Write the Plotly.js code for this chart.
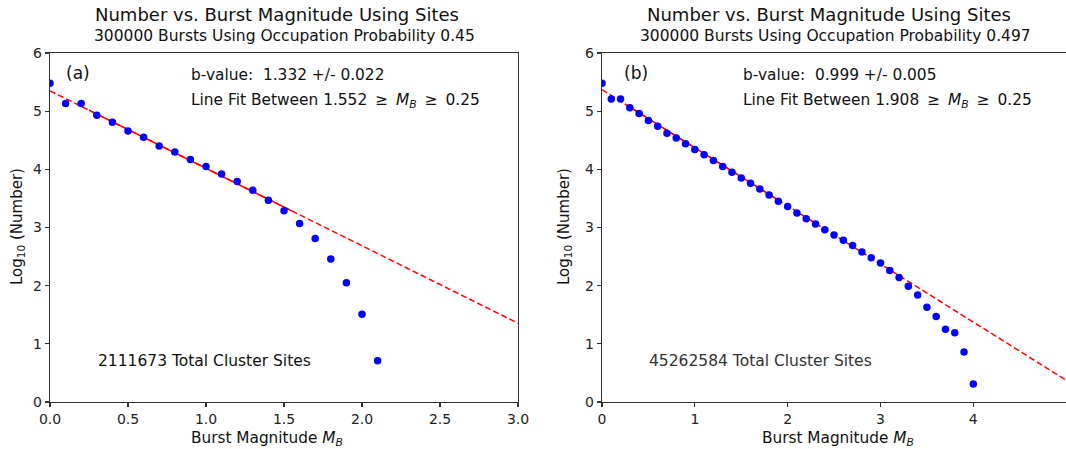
<!DOCTYPE html>
<html>
<head>
<meta charset="utf-8">
<script src="https://cdn.plot.ly/plotly-3.0.1.min.js"></script>
<style>
html,body{margin:0;padding:0;overflow:hidden;background:#fff;}
#chart{width:1070px;height:449px;}
</style>
</head>
<body>
<div id="chart"></div>
<script>
// ---- Data ----
const magA = [0.0,0.1,0.2,0.3,0.4,0.5,0.6,0.7,0.8,0.9,1.0,1.1,1.2,1.3,1.4,1.5,1.6,1.7,1.8,1.9,2.0,2.1];
const logNA = [5.48,5.13,5.13,4.93,4.81,4.66,4.55,4.40,4.30,4.17,4.05,3.92,3.79,3.64,3.47,3.29,3.07,2.81,2.46,2.05,1.51,0.71];
const magB = [0.0,0.1,0.2,0.3,0.4,0.5,0.6,0.7,0.8,0.9,1.0,1.1,1.2,1.3,1.4,1.5,1.6,1.7,1.8,1.9,2.0,
              2.1,2.2,2.3,2.4,2.5,2.6,2.7,2.8,2.9,3.0,3.1,3.2,3.3,3.4,3.5,3.6,3.7,3.8,3.9,4.0];
const logNB = [5.48,5.21,5.21,5.06,4.96,4.84,4.74,4.62,4.54,4.44,4.34,4.25,4.15,4.05,3.95,3.85,3.76,3.66,3.56,3.45,3.36,
               3.25,3.15,3.06,2.96,2.87,2.78,2.69,2.58,2.48,2.39,2.26,2.14,1.99,1.84,1.63,1.47,1.25,1.19,0.86,0.31];
// fit lines: intercept, b-value, fit range, drawn extent
const fitA = {a:5.35, b:1.332, lo:0.25, hi:1.552, xmax:3.0};
const fitB = {a:5.37, b:0.999, lo:0.25, hi:1.908, xmax:5.02};
const xTicksA = [0,0.5,1.0,1.5,2.0,2.5,3.0];
const xTicksB = [0,1,2,3,4];
const yTicks = [0,1,2,3,4,5,6];
const titleMain = "Number vs. Burst Magnitude Using Sites";
const subA = "300000 Bursts Using Occupation Probability 0.45";
const subB = "300000 Bursts Using Occupation Probability 0.497";
const bTextA = "b-value:  1.332 +/- 0.022";
const bTextB = "b-value:  0.999 +/- 0.005";
const fitTextA = "Line Fit Between 1.552 \u2009\u2265\u2009 <i>M<sub>B</sub></i> \u2009\u2265\u2009 0.25";
const fitTextB = "Line Fit Between 1.908 \u2009\u2265\u2009 <i>M<sub>B</sub></i> \u2009\u2265\u2009 0.25";
const sitesA = "2111673 Total Cluster Sites";
const sitesB = "45262584 Total Cluster Sites";

// ---- Layout ----
const W = 1070, H = 449;
const px = x => x / W, py = y => 1 - y / H;
const FONT = "DejaVu Sans, sans-serif";
const AX = '#333';

function line(fit, x0, x1, xa, ya, dash){
  return {x:[x0,x1], y:[fit.a - fit.b*x0, fit.a - fit.b*x1], xaxis:xa, yaxis:ya,
          mode:'lines', line:{color:'#ff0000', width:1.5, dash:dash}, hoverinfo:'skip', showlegend:false};
}
const traces = [
  line(fitA, 0, fitA.xmax, 'x', 'y', '6px,3px'),
  line(fitA, fitA.lo, fitA.hi, 'x', 'y', 'solid'),
  {x:magA, y:logNA, xaxis:'x', yaxis:'y', mode:'markers', marker:{color:'#0000ff', size:7.5}, showlegend:false},
  line(fitB, 0, fitB.xmax, 'x2', 'y2', '6px,3px'),
  line(fitB, fitB.lo, fitB.hi, 'x2', 'y2', 'solid'),
  {x:magB, y:logNB, xaxis:'x2', yaxis:'y2', mode:'markers', marker:{color:'#0000ff', size:7.5}, showlegend:false}
];

function xax(domain, range, tv, fmt){
  return {domain:domain, range:range, tickvals:tv, tickformat:fmt, ticks:'outside', ticklen:4, tickwidth:1.2, tickcolor:AX,
          showline:true, linecolor:AX, linewidth:1.2, mirror:true, showgrid:false, zeroline:false,
          tickfont:{family:FONT, size:14, color:'#222'}, automargin:false};
}
function yax(anchor){
  return {domain:[py(402), py(53)], range:[0,6], tickvals:yTicks, anchor:anchor, ticks:'outside', ticklen:4, tickwidth:1.2, tickcolor:AX,
          showline:true, linecolor:AX, linewidth:1.2, mirror:true, showgrid:false, zeroline:false,
          tickfont:{family:FONT, size:14, color:'#222'}, automargin:false};
}
function ann(text, x, y, size, xanchor, extra){
  return Object.assign({text:text, xref:'paper', yref:'paper', x:px(x), y:py(y), xanchor:xanchor, yanchor:'middle',
          showarrow:false, font:{family:FONT, size:size, color:'#111'}}, extra||{});
}
const layout = {
  width:W, height:H, margin:{l:0,r:0,t:0,b:0}, paper_bgcolor:'#fff', plot_bgcolor:'#fff', showlegend:false,
  xaxis: xax([px(50), px(518)], [0,3], xTicksA, '.1f'),
  yaxis: yax('x'),
  xaxis2: Object.assign(xax([px(602), px(1068)], [0, fitB.xmax], xTicksB, 'd'), {anchor:'y2'}),
  yaxis2: yax('x2'),
  annotations: [
    ann(titleMain, 277, 15, 18, 'center'),
    ann(subA, 284, 36, 15.5, 'center'),
    ann(titleMain, 829, 15, 18, 'center'),
    ann(subB, 835, 36, 15.5, 'center'),
    ann("(a)", 64, 73, 17, 'left'),
    ann("(b)", 622, 73, 17, 'left'),
    ann(bTextA, 189, 75, 15.4, 'left'),
    ann(fitTextA, 189, 101, 15.4, 'left'),
    ann(bTextB, 741, 75, 15.4, 'left'),
    ann(fitTextB, 741, 101, 15.4, 'left'),
    ann(sitesA, 96, 361, 15.5, 'left'),
    ann(sitesB, 647, 361, 15.5, 'left', {font:{family:FONT, size:15.5, color:'#333'}}),
    ann("Burst Magnitude <i>M<sub>B</sub></i>", 267, 439, 15.3, 'center'),
    ann("Burst Magnitude <i>M<sub>B</sub></i>", 838, 439, 15.3, 'center'),
    ann("Log<sub>10</sub> (Number)", 17, 227, 15, 'center', {textangle:-90}),
    ann("Log<sub>10</sub> (Number)", 564, 227, 15, 'center', {textangle:-90})
  ]
};
Plotly.newPlot('chart', traces, layout, {staticPlot:true, displayModeBar:false});
</script>
</body>
</html>
